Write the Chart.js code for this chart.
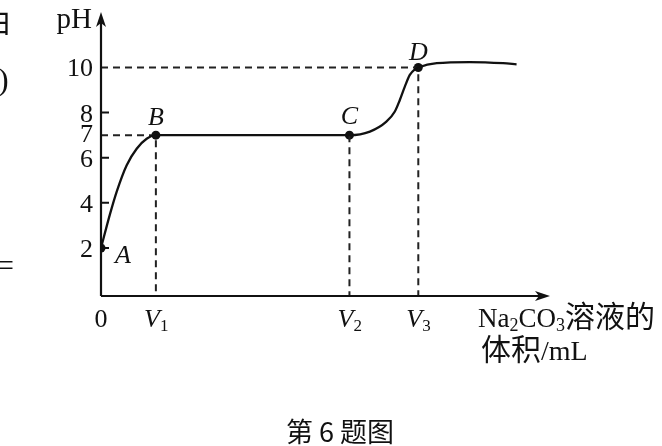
<!DOCTYPE html>
<html>
<head>
<meta charset="utf-8">
<script src="https://cdn.jsdelivr.net/npm/chart.js@4/dist/chart.umd.min.js"></script>
<style>
    body { margin: 0; background: #fff; }
    #wrap { width: 662px; height: 446px; }
</style>
</head>
<body>
<div id="wrap"><canvas id="phChart" width="662" height="446"></canvas></div>
<script>
// volume axis is unitless (V1, V2, V3 only)
const V1 = 11, V2 = 49.8, V3 = 63.6;
const xMax = 90, yMin = -0.13, yMax = 12.46;

const curveX = [0, 1.8, 3.15, 5.15, 7.15, 9.15, V1, V2, 53.9, 57.2, 58.9, 59.9, 60.9, 61.9, 62.9, V3, 67.3, 73.9, 80.6, 83.3];
const curveY = [2, 3.5, 4.5, 5.67, 6.4, 6.84, 7, 7, 7.16, 7.6, 8.05, 8.56, 9.15, 9.67, 9.92, 10, 10.19, 10.24, 10.19, 10.14];

const pointNames = ["A", "B", "C", "D"];
const pointX = [0, V1, V2, V3];
const pointY = [2, 7, 7, 10];

const yTickLabels = [2, 4, 6, 7, 8, 10];
const yTickMarks = [2, 4, 6, 8];
const xTickLabels = [["0", ""], ["V", "1"], ["V", "2"], ["V", "3"]];
const xTickValues = [0, V1, V2, V3];

const SERIF = "'Liberation Serif', 'DejaVu Serif', serif";
const CJK = "'Noto Sans CJK SC', sans-serif";

const pts = (xs, ys) => xs.map((x, i) => ({ x: x, y: ys[i] }));

const guide = (data) => ({
    data: data,
    borderColor: "#222",
    borderWidth: 2,
    borderDash: [7, 5],
    pointRadius: 0,
    fill: false,
    tension: 0
});

// axes, arrows, tick labels and texts
const decor = {
    id: "decor",
    afterDraw(chart) {
        const { ctx } = chart;
        const xs = chart.scales.x, ys = chart.scales.y;
        const x0 = xs.getPixelForValue(0), y0 = ys.getPixelForValue(yMin);
        const xEnd = xs.getPixelForValue(xMax), yTop = ys.getPixelForValue(yMax);
        ctx.save();
        ctx.strokeStyle = "#111";
        ctx.fillStyle = "#111";
        ctx.lineWidth = 2.2;
        ctx.beginPath();
        ctx.moveTo(x0, y0); ctx.lineTo(x0, yTop + 8);
        ctx.moveTo(x0, y0); ctx.lineTo(xEnd - 8, y0);
        ctx.stroke();
        // arrowheads
        ctx.beginPath();
        ctx.moveTo(x0, yTop); ctx.lineTo(x0 - 5, yTop + 15); ctx.lineTo(x0, yTop + 11); ctx.lineTo(x0 + 5, yTop + 15);
        ctx.closePath(); ctx.fill();
        ctx.beginPath();
        ctx.moveTo(xEnd, y0); ctx.lineTo(xEnd - 15, y0 - 5); ctx.lineTo(xEnd - 11, y0); ctx.lineTo(xEnd - 15, y0 + 5);
        ctx.closePath(); ctx.fill();

        // y tick marks
        ctx.lineWidth = 2;
        ctx.beginPath();
        yTickMarks.forEach(v => {
            const py = ys.getPixelForValue(v);
            ctx.moveTo(x0, py); ctx.lineTo(x0 + 8, py);
        });
        ctx.stroke();

        ctx.font = "26px " + SERIF;
        ctx.textAlign = "right";
        ctx.textBaseline = "middle";
        yTickLabels.forEach(v => {
            let py = ys.getPixelForValue(v) + 2;
            if (v === 7) py -= 2;
            if (v === 8) py += 1;
            ctx.fillText(String(v), x0 - 8, py);
        });
        ctx.font = "29px " + SERIF;
        ctx.textBaseline = "alphabetic";
        ctx.fillText("pH", x0 - 9, 28);

        // x labels
        xTickLabels.forEach((lab, i) => {
            const px = xs.getPixelForValue(xTickValues[i]);
            ctx.textAlign = "center";
            if (!lab[1]) {
                ctx.font = "26px " + SERIF;
                ctx.fillText(lab[0], px, 327);
                return;
            }
            ctx.font = "italic 26px " + SERIF;
            ctx.fillText(lab[0], px - 4, 327);
            ctx.font = "17px " + SERIF;
            ctx.textAlign = "left";
            ctx.fillText(lab[1], px + 4, 331);
        });

        // point names
        const offs = [[22, 8], [0, -17], [0, -18], [0, -14]];
        ctx.font = "italic 26px " + SERIF;
        ctx.textAlign = "center";
        ctx.textBaseline = "middle";
        pointNames.forEach((n, i) => {
            const px = xs.getPixelForValue(pointX[i]), py = ys.getPixelForValue(pointY[i]);
            ctx.fillText(n, px + offs[i][0], py + offs[i][1]);
        });

        // axis title
        ctx.textAlign = "left";
        ctx.textBaseline = "alphabetic";
        let tx = 478;
        const part = (t, font, dy) => {
            ctx.font = font;
            ctx.fillText(t, tx, 327 + dy);
            tx += ctx.measureText(t).width;
        };
        part("Na", "27px " + SERIF, 0);
        part("2", "18px " + SERIF, 4);
        part("CO", "27px " + SERIF, 0);
        part("3", "18px " + SERIF, 4);
        part("溶液的", "30px " + CJK, 0);
        ctx.font = "30px " + CJK;
        ctx.fillText("体积", 481, 360);
        const w = ctx.measureText("体积").width;
        ctx.font = "28px " + SERIF;
        ctx.fillText("/mL", 481 + w, 360);

        // caption
        ctx.textAlign = "center";
        ctx.font = "27px " + CJK;
        ctx.fillText("第 6 题图", 340, 442);

        // fragments of the neighbouring page text at the left edge
        ctx.textAlign = "left";
        ctx.font = "30px " + CJK;
        ctx.fillText("由", -19, 32);
        ctx.font = "32px " + SERIF;
        ctx.fillText(")", -2, 90);
        ctx.fillText("=", -4, 276);
        ctx.restore();
    }
};

new Chart(document.getElementById("phChart"), {
    type: "line",
    data: {
        datasets: [
            {
                data: pts(curveX, curveY),
                borderColor: "#111",
                borderWidth: 2.3,
                pointRadius: 0,
                cubicInterpolationMode: "monotone",
                fill: false
            },
            guide([{ x: 0, y: 7 }, { x: V1, y: 7 }, { x: V1, y: yMin }]),
            guide([{ x: V2, y: 7 }, { x: V2, y: yMin }]),
            guide([{ x: 0, y: 10 }, { x: V3, y: 10 }, { x: V3, y: yMin }]),
            {
                data: pts(pointX, pointY),
                showLine: false,
                pointRadius: 4.5,
                pointBackgroundColor: "#111",
                pointBorderColor: "#111",
                borderWidth: 0
            }
        ]
    },
    options: {
        responsive: false,
        animation: false,
        layout: { padding: { left: 101, right: 112, top: 12, bottom: 150 } },
        plugins: { legend: { display: false }, tooltip: { enabled: false } },
        scales: {
            x: { type: "linear", min: 0, max: xMax, display: false },
            y: { type: "linear", min: yMin, max: yMax, display: false }
        }
    },
    plugins: [decor]
});
</script>
</body>
</html>
